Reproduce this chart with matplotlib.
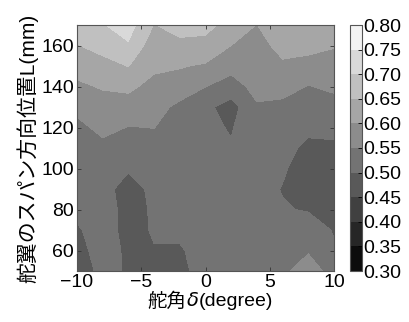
import matplotlib
matplotlib.use("Agg")
import matplotlib.pyplot as plt
import numpy as np
from matplotlib.offsetbox import AnnotationBbox, HPacker, TextArea

FAMILY = ["Liberation Sans", "Noto Sans CJK JP", "DejaVu Sans"]
plt.rcParams["font.family"] = FAMILY

# rudder angle (degree) and span position (mm) of the measuring grid
angle = [-10, -8, -6, -4, -2, 0, 2, 4, 6, 8, 10]
span = [50, 60, 70, 80, 90, 100, 110, 120, 130, 140, 150, 160, 170]

z_50 = [0.470, 0.515, 0.495, 0.485, 0.490, 0.516, 0.525, 0.530, 0.546, 0.560, 0.542]
z_60 = [0.480, 0.524, 0.490, 0.498, 0.495, 0.520, 0.525, 0.525, 0.530, 0.548, 0.505]
z_70 = [0.495, 0.520, 0.485, 0.504, 0.510, 0.520, 0.525, 0.520, 0.515, 0.520, 0.497]
z_80 = [0.510, 0.520, 0.485, 0.505, 0.520, 0.530, 0.530, 0.520, 0.503, 0.497, 0.480]
z_90 = [0.520, 0.510, 0.488, 0.507, 0.520, 0.520, 0.520, 0.515, 0.498, 0.480, 0.475]
z_100 = [0.520, 0.530, 0.503, 0.525, 0.520, 0.515, 0.515, 0.520, 0.505, 0.480, 0.480]
z_110 = [0.520, 0.535, 0.530, 0.530, 0.520, 0.515, 0.505, 0.530, 0.515, 0.490, 0.490]
z_120 = [0.535, 0.565, 0.548, 0.551, 0.520, 0.515, 0.495, 0.545, 0.525, 0.510, 0.515]
z_130 = [0.565, 0.576, 0.580, 0.570, 0.537, 0.510, 0.480, 0.545, 0.540, 0.535, 0.530]
z_140 = [0.590, 0.605, 0.610, 0.585, 0.580, 0.551, 0.530, 0.565, 0.565, 0.548, 0.560]
z_150 = [0.620, 0.635, 0.651, 0.610, 0.603, 0.595, 0.565, 0.570, 0.589, 0.577, 0.570]
z_160 = [0.648, 0.665, 0.695, 0.620, 0.637, 0.630, 0.600, 0.575, 0.622, 0.620, 0.605]
z_170 = [0.670, 0.697, 0.720, 0.648, 0.670, 0.670, 0.623, 0.599, 0.640, 0.640, 0.630]

levels = [0.30, 0.35, 0.40, 0.45, 0.50, 0.55, 0.60, 0.65, 0.70, 0.75, 0.80]

Z = np.array([z_50, z_60, z_70, z_80, z_90, z_100, z_110, z_120,
              z_130, z_140, z_150, z_160, z_170])
X, Y = np.meshgrid(angle, span)

fig = plt.figure(figsize=(4.09, 3.22), dpi=100)
ax = fig.add_axes([77 / 409, 1 - 271 / 322, 257 / 409, 246 / 322])
cax = fig.add_axes([350 / 409, 1 - 271 / 322, 12 / 409, 246 / 322])

cs = ax.contourf(X, Y, Z, levels=levels, cmap="gray")
ax.set_xlim(-10, 10)
ax.set_ylim(50, 170)
ax.set_xticks([-10, -5, 0, 5, 10])
ax.set_yticks([60, 80, 100, 120, 140, 160])
ax.tick_params(direction="in", top=True, right=True, length=3, width=0.6,
               labelsize=14, pad=2, colors="#333333", labelcolor="black")
for sp in ax.spines.values():
    sp.set_color("#555555")
    sp.set_linewidth(0.8)

ax.set_ylabel("舵翼のスパン方向位置L(mm)", fontsize=15, labelpad=2)

# x label: italic delta between the Japanese word and the unit
lab = HPacker(children=[
    TextArea("舵角", textprops=dict(fontsize=14, family=FAMILY)),
    TextArea("δ", textprops=dict(fontsize=14, family="DejaVu Sans", style="italic")),
    TextArea("(degree)", textprops=dict(fontsize=14, family=FAMILY)),
], sep=0, pad=0, align="baseline")
fig.add_artist(AnnotationBbox(lab, (210 / 409, 1 - 301 / 322), xycoords="figure fraction",
                              frameon=False, box_alignment=(0.5, 0.5), pad=0))

cb = fig.colorbar(cs, cax=cax, ticks=levels)
cb.ax.set_yticklabels([f"{v:.2f}" for v in levels])
cb.ax.tick_params(direction="in", length=3, width=0.6, labelsize=14, pad=1)
cb.outline.set_edgecolor("#555555")
cb.outline.set_linewidth(0.8)

fig.savefig("out.png", dpi=100)
